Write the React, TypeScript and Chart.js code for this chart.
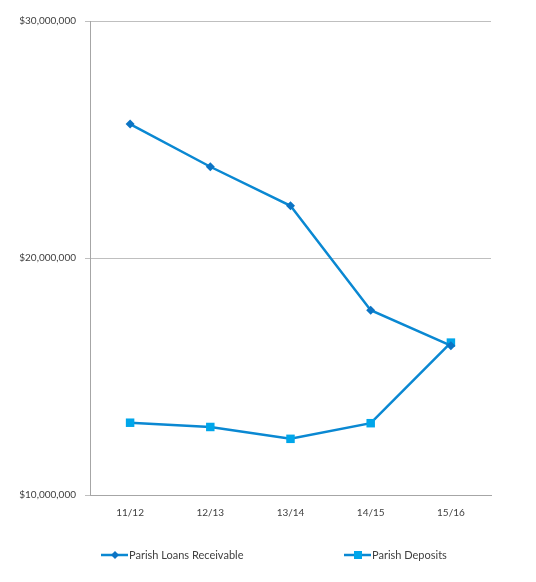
import React, { useEffect, useRef } from "react";
import { Chart, registerables } from "chart.js";

Chart.register(...registerables);

const categories = ["11/12", "12/13", "13/14", "14/15", "15/16"];
const loansReceivable = [25650000, 23850000, 22200000, 17800000, 16300000];
const parishDeposits = [13050000, 12870000, 12370000, 13030000, 16430000];
const yTicks = [10000000, 20000000, 30000000];

const seriesNames = ["Parish Loans Receivable", "Parish Deposits"];
const lineColor = "#0a88d2";
const loanMarker = "#0c74c4";
const depositMarker = "#00a6ea";
const FONT = "Lato, 'Open Sans', sans-serif";

const legendPlugin = {
  id: "customLegend",
  afterDraw(chart: any) {
    const ctx = chart.ctx;
    const y = 555;
    const items = [
      { x: 101, name: seriesNames[0], marker: "diamond", color: loanMarker },
      { x: 344, name: seriesNames[1], marker: "square", color: depositMarker },
    ];
    ctx.save();
    for (const it of items) {
      ctx.strokeStyle = lineColor;
      ctx.lineWidth = 2.5;
      ctx.beginPath();
      ctx.moveTo(it.x, y);
      ctx.lineTo(it.x + 27, y);
      ctx.stroke();
      const cx = it.x + 14;
      ctx.fillStyle = it.color;
      if (it.marker === "diamond") {
        ctx.beginPath();
        ctx.moveTo(cx, y - 4);
        ctx.lineTo(cx + 4, y);
        ctx.lineTo(cx, y + 4);
        ctx.lineTo(cx - 4, y);
        ctx.closePath();
        ctx.fill();
      } else {
        ctx.fillRect(cx - 4, y - 4, 8, 8);
      }
      ctx.fillStyle = "#404040";
      ctx.font = `11px ${FONT}`;
      ctx.textBaseline = "middle";
      ctx.textAlign = "left";
      ctx.fillText(it.name, it.x + 28, y);
    }
    ctx.restore();
  },
};

export default function App() {
  const ref = useRef<HTMLCanvasElement | null>(null);
  useEffect(() => {
    if (!ref.current) return;
    const chart = new Chart(ref.current, {
      type: "line",
      data: {
        labels: categories,
        datasets: [
          {
            label: seriesNames[0],
            data: loansReceivable,
            borderColor: lineColor,
            backgroundColor: loanMarker,
            borderWidth: 2.5,
            pointStyle: "rectRot",
            pointRadius: 4.5,
            pointBackgroundColor: loanMarker,
            pointBorderColor: loanMarker,
            pointBorderWidth: 0,
            tension: 0,
          },
          {
            label: seriesNames[1],
            data: parishDeposits,
            borderColor: lineColor,
            backgroundColor: depositMarker,
            borderWidth: 2.5,
            pointStyle: "rect",
            pointRadius: 6,
            pointBackgroundColor: depositMarker,
            pointBorderColor: depositMarker,
            pointBorderWidth: 0,
            tension: 0,
          },
        ],
      },
      options: {
        responsive: false,
        animation: false,
        layout: { padding: { top: 21, right: 45, left: 0, bottom: 57 } },
        plugins: {
          legend: { display: false },
          tooltip: { enabled: false },
          title: { display: false },
        },
        scales: {
          x: {
            offset: true,
            grid: { display: false, drawTicks: false },
            border: { display: true, color: "#a6a6a6", width: 1 },
            ticks: {
              color: "#404040",
              font: { family: FONT, size: 10 },
              padding: 12,
            },
            afterFit(scale: any) {
              scale.height = 30;
            },
          },
          y: {
            min: 10000000,
            max: 30000000,
            afterBuildTicks(scale: any) {
              scale.ticks = yTicks.map((v) => ({ value: v }));
            },
            grid: {
              color: "#bfbfbf",
              tickLength: 5,
              drawTicks: true,
            },
            border: { display: true, color: "#a6a6a6", width: 1 },
            ticks: {
              color: "#404040",
              font: { family: FONT, size: 10 },
              padding: 9,
              callback: (v: any) => "$" + Number(v).toLocaleString("en-US"),
            },
            afterFit(scale: any) {
              scale.width = 90;
            },
          },
        },
      },
      plugins: [legendPlugin],
    });
    return () => chart.destroy();
  }, []);
  return (
    <div style={{ position: "fixed", left: 0, top: 0, width: 536, height: 582, background: "#fff" }}>
      <canvas ref={ref} width={536} height={582} style={{ display: "block" }} />
    </div>
  );
}
